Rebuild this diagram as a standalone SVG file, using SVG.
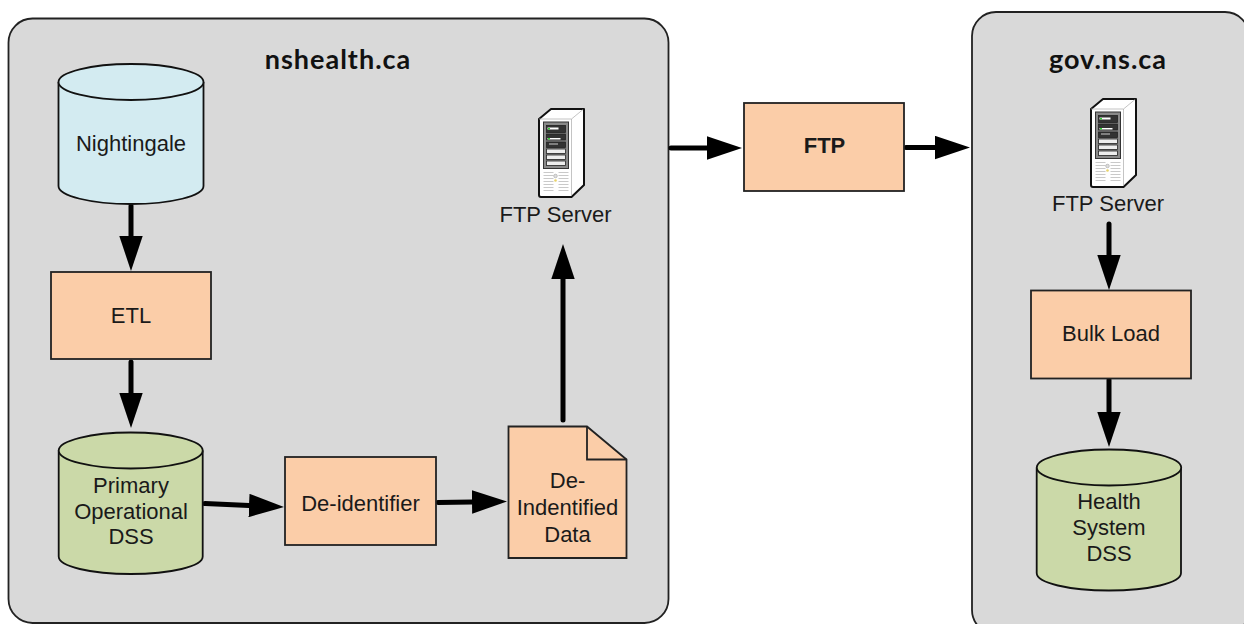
<svg xmlns="http://www.w3.org/2000/svg" xmlns:xlink="http://www.w3.org/1999/xlink" width="1244" height="624" viewBox="0 0 1244 624">
<style>
text{font-family:"Liberation Sans",Arial,sans-serif;font-size:22px;fill:#1a1a1a;text-anchor:middle}
.title{font-family:Lato,"Open Sans",sans-serif;font-weight:700;font-size:27px;letter-spacing:1px;fill:#111}
.b{font-weight:700}
.panel{fill:#d9d9d9;stroke:#222;stroke-width:1.8}
.proc{fill:#fbcda8;stroke:#222;stroke-width:1.8}
.green{fill:#cbd9a8;stroke:#111;stroke-width:1.8}
.blue{fill:#d3ebf1;stroke:#111;stroke-width:1.8}
.conn{stroke:#000;stroke-width:5;fill:none;stroke-linecap:round;marker-end:url(#ah)}
.bay{fill:#eee;stroke:#222;stroke-width:.8}
.dark{fill:#333;stroke:#222;stroke-width:.8}
.vent{stroke:#bbb;stroke-width:.8;fill:none}
</style>
<defs>
<marker id="ah" markerUnits="userSpaceOnUse" markerWidth="36" markerHeight="24" refX="0" refY="12" orient="auto">
<path d="M0 .3L35 12L0 23.7Z" fill="#000"/>
</marker>
<g id="srv">
<path d="M539 119L551 109H584V185L571.500 197H541Q539 197 539 195Z" fill="#fff" stroke="#111" stroke-width="2" stroke-linejoin="round"/>
<path d="M539 119H571.500V196M571.500 119L583 109.500" fill="none" stroke="#aaa" stroke-width=".7"/>
<rect x="543.500" y="122" width="25" height="46.500" fill="#8a8a8a" stroke="#333"/>
<rect class="dark" x="546.500" y="125.500" width="19" height="7"/>
<rect x="547.500" y="127.500" width="11" height="2" fill="#fff"/>
<rect x="548" y="128" width="2" height="1.500" fill="#3c3"/>
<rect class="dark" x="546.500" y="134" width="19" height="6"/>
<rect x="547.500" y="138" width="13" height="1.500" fill="#fff"/>
<rect x="548" y="138" width="2" height="1.500" fill="#3c3"/>
<rect class="dark" x="546.500" y="142" width="19" height="5.500"/>
<rect x="549" y="143.500" width="9" height="1" fill="#ccc"/>
<rect class="bay" x="546.500" y="149" width="19" height="4.500"/>
<rect class="bay" x="546.500" y="155" width="19" height="4.500"/>
<rect class="bay" x="546.500" y="161" width="19" height="4.500"/>
<path class="vent" d="M543.500 172.500h10M543.500 175.500h10M543.500 178.500h10M543.500 181.500h10M543.500 184.500h10M543.500 187.500h10M543.500 190.500h10M558.500 172.500h10M558.500 175.500h10M558.500 178.500h10M558.500 181.500h10M558.500 184.500h10M558.500 187.500h10M558.500 190.500h10"/>
<circle cx="555.500" cy="176" r="1.800" fill="#ddd" stroke="#999" stroke-width=".5"/>
<circle cx="555.500" cy="180.500" r="1.300" fill="#e8d36a"/>
</g>
</defs>

<g id="panel-nshealth">
<rect class="panel" x="8.500" y="18.500" width="660" height="604.500" rx="24"/>
<text class="title" x="338" y="69">nshealth.ca</text>
</g>
<g id="panel-gov">
<rect class="panel" x="972" y="12" width="277" height="622" rx="24"/>
<text class="title" x="1108" y="69">gov.ns.ca</text>
</g>

<g id="connectors">
<path class="conn" d="M131 206V236"/>
<path class="conn" d="M131 362V393"/>
<path class="conn" d="M205 503.500L249 505.500"/>
<path class="conn" d="M438 502.500L472 502"/>
<path class="conn" d="M563 420V279"/>
<path class="conn" d="M671 148H707"/>
<path class="conn" d="M906 147.500H935"/>
<path class="conn" d="M1109 224V255"/>
<path class="conn" d="M1109 380V412"/>
</g>

<g id="nightingale">
<path class="blue" d="M58.500 82V186C58.500 196 91 204 131 204S203.500 196 203.500 186V82"/>
<ellipse class="blue" cx="131" cy="82" rx="72.500" ry="18"/>
<text x="131" y="151">Nightingale</text>
</g>
<g id="etl">
<rect class="proc" x="51" y="272" width="160" height="87"/>
<text x="131" y="323">ETL</text>
</g>
<g id="primary-dss">
<path class="green" d="M58.700 450.500V556.500C58.700 566.500 91 574 130.700 574S202.700 566.500 202.700 556.500V450.500"/>
<ellipse class="green" cx="130.700" cy="450.500" rx="72" ry="18"/>
<text x="131" y="493">Primary</text>
<text x="131" y="519">Operational</text>
<text x="131" y="544">DSS</text>
</g>
<g id="de-identifier">
<rect class="proc" x="285" y="457" width="151" height="88"/>
<text x="360.500" y="511">De-identifier</text>
</g>
<g id="de-identified-data">
<path class="proc" d="M508.500 426.500H587L626.500 459.500V558H508.500Z"/>
<path d="M587 426.500V459.500H626.500" fill="none" stroke="#222" stroke-width="1.800"/>
<text x="567.500" y="488">De-</text>
<text x="567.500" y="515">Indentified</text>
<text x="567.500" y="542">Data</text>
</g>
<g id="ftp-server-1">
<use href="#srv" xlink:href="#srv"/>
<text x="555.500" y="222">FTP Server</text>
</g>
<g id="ftp">
<rect class="proc" x="744" y="103" width="160" height="88"/>
<text class="b" x="824.500" y="153">FTP</text>
</g>
<g id="ftp-server-2">
<use href="#srv" xlink:href="#srv" transform="translate(552 -10)"/>
<text x="1108" y="211">FTP Server</text>
</g>
<g id="bulk-load">
<rect class="proc" x="1031" y="290.500" width="160" height="88"/>
<text x="1111" y="341">Bulk Load</text>
</g>
<g id="health-dss">
<path class="green" d="M1036.700 467.500V573C1036.700 583 1069 590.500 1109 590.500S1181 583 1181 573V467.500"/>
<ellipse class="green" cx="1109" cy="467.500" rx="72.200" ry="18"/>
<text x="1109" y="509">Health</text>
<text x="1109" y="535">System</text>
<text x="1109" y="561">DSS</text>
</g>
</svg>
